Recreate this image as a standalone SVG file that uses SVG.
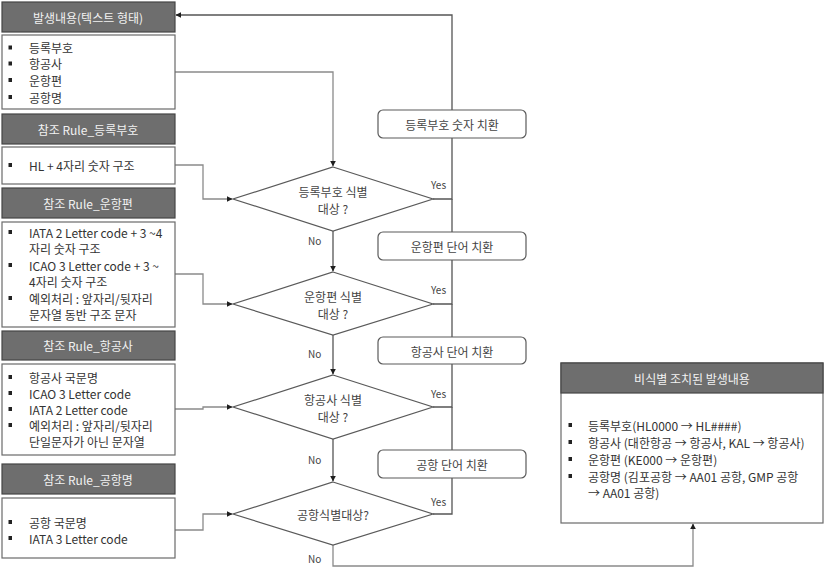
<svg xmlns="http://www.w3.org/2000/svg" width="827" height="569" viewBox="0 0 827 569">
<style>
  text { font-family: "Noto Sans CJK KR", "Noto Sans", sans-serif; }
  .hdr { fill: #6e6e6e; stroke: #454545; stroke-width: 1.2; }
  .hdrt { fill: #f2f2f2; font-size: 12px; text-anchor: middle; dominant-baseline: central; }
  .lst { fill: #ffffff; stroke: #6a6a6a; stroke-width: 1.2; }
  .lt { fill: #333333; font-size: 12px; dominant-baseline: central; }
  .bul { fill: #222222; }
  .dia { fill: #ffffff; stroke: #5a5a5a; stroke-width: 1.2; }
  .dt { fill: #444444; font-size: 12px; text-anchor: middle; dominant-baseline: central; }
  .rb { fill: #ffffff; stroke: #5a5a5a; stroke-width: 1.2; }
  .yn { fill: #444444; font-size: 10px; dominant-baseline: central; }
  .c { fill: none; stroke: #8a8a8a; stroke-width: 1.3; }
  .cd { fill: none; stroke: #555555; stroke-width: 1.3; }
</style>
<defs>
  <marker id="ah" viewBox="0 0 10 10" refX="9" refY="5" markerWidth="6" markerHeight="6" markerUnits="userSpaceOnUse" orient="auto">
    <path d="M0,0 L10,5 L0,10 z" fill="#1e1e1e"/>
  </marker>
</defs>

<g id="connectors">
  <path class="c" d="M175,72 H333 V166" marker-end="url(#ah)"/>
  <path class="c" d="M175,165 H203 V199 H232" marker-end="url(#ah)"/>
  <path class="c" d="M175,274 H203 V304 H232" marker-end="url(#ah)"/>
  <path class="c" d="M175,409 H203 V407 H232" marker-end="url(#ah)"/>
  <path class="c" d="M175,530 H203 V514 H232" marker-end="url(#ah)"/>
  <path class="cd" d="M333,231 V271" marker-end="url(#ah)"/>
  <path class="cd" d="M333,335 V374" marker-end="url(#ah)"/>
  <path class="cd" d="M333,439 V481" marker-end="url(#ah)"/>
  <path class="c" d="M333,545 V566 H693 V524" marker-end="url(#ah)"/>
  <path class="cd" d="M452,110 V15 H176" marker-end="url(#ah)"/>
  <path class="cd" d="M433,199 H452 V138"/>
  <path class="cd" d="M452,232 V199"/>
  <path class="cd" d="M433,304 H452 V260"/>
  <path class="cd" d="M452,337 V304"/>
  <path class="cd" d="M433,407 H452 V364"/>
  <path class="cd" d="M452,450 V407"/>
  <path class="cd" d="M433,514 H452 V478"/>
  <text class="yn" x="431" y="184">Yes</text>
  <text class="yn" x="431" y="289">Yes</text>
  <text class="yn" x="431" y="393">Yes</text>
  <text class="yn" x="431" y="501">Yes</text>
  <text class="yn" x="308" y="240">No</text>
  <text class="yn" x="308" y="353">No</text>
  <text class="yn" x="308" y="459">No</text>
  <text class="yn" x="308" y="558">No</text>
</g>

<g id="h-source">
  <rect class="hdr" x="2" y="2" width="173" height="30"/>
  <text class="hdrt" x="88" y="17">발생내용(텍스트 형태)</text>
</g>
<g id="l-source">
  <rect class="lst" x="2" y="35" width="173" height="74"/>
  <rect class="bul" x="8.5" y="45.5" width="3.5" height="4"/>
  <rect class="bul" x="8.5" y="61.5" width="3.5" height="4"/>
  <rect class="bul" x="8.5" y="78" width="3.5" height="4"/>
  <rect class="bul" x="8.5" y="95" width="3.5" height="4"/>
  <text class="lt" x="29" y="47">등록부호</text>
  <text class="lt" x="29" y="63">항공사</text>
  <text class="lt" x="29" y="80">운항편</text>
  <text class="lt" x="29" y="97">공항명</text>
</g>

<g id="h-rule-reg">
  <rect class="hdr" x="2" y="114" width="173" height="30"/>
  <text class="hdrt" x="88" y="129">참조 Rule_등록부호</text>
</g>
<g id="l-rule-reg">
  <rect class="lst" x="2" y="147" width="173" height="37"/>
  <rect class="bul" x="8.5" y="163" width="3.5" height="4"/>
  <text class="lt" x="29" y="165">HL + 4자리 숫자 구조</text>
</g>

<g id="h-rule-flight">
  <rect class="hdr" x="2" y="188" width="173" height="30"/>
  <text class="hdrt" x="88" y="203">참조 Rule_운항편</text>
</g>
<g id="l-rule-flight">
  <rect class="lst" x="2" y="222" width="173" height="105"/>
  <rect class="bul" x="8.5" y="230" width="3.5" height="4"/>
  <rect class="bul" x="8.5" y="263" width="3.5" height="4"/>
  <rect class="bul" x="8.5" y="296" width="3.5" height="4"/>
  <text class="lt" x="29" y="232">IATA 2 Letter code + 3 ~4</text>
  <text class="lt" x="29" y="248">자리 숫자 구조</text>
  <text class="lt" x="29" y="265">ICAO 3 Letter code + 3 ~</text>
  <text class="lt" x="29" y="281">4자리 숫자 구조</text>
  <text class="lt" x="29" y="298">예외처리 : 앞자리/뒷자리</text>
  <text class="lt" x="29" y="314">문자열 동반 구조 문자</text>
</g>

<g id="h-rule-airline">
  <rect class="hdr" x="2" y="331" width="173" height="29"/>
  <text class="hdrt" x="88" y="345">참조 Rule_항공사</text>
</g>
<g id="l-rule-airline">
  <rect class="lst" x="2" y="364" width="173" height="91"/>
  <rect class="bul" x="8.5" y="375" width="3.5" height="4"/>
  <rect class="bul" x="8.5" y="391" width="3.5" height="4"/>
  <rect class="bul" x="8.5" y="407" width="3.5" height="4"/>
  <rect class="bul" x="8.5" y="423" width="3.5" height="4"/>
  <text class="lt" x="29" y="377">항공사 국문명</text>
  <text class="lt" x="29" y="393">ICAO 3 Letter code</text>
  <text class="lt" x="29" y="409">IATA 2 Letter code</text>
  <text class="lt" x="29" y="425">예외처리 : 앞자리/뒷자리</text>
  <text class="lt" x="29" y="441">단일문자가 아닌 문자열</text>
</g>

<g id="h-rule-airport">
  <rect class="hdr" x="2" y="464" width="173" height="30"/>
  <text class="hdrt" x="88" y="479">참조 Rule_공항명</text>
</g>
<g id="l-rule-airport">
  <rect class="lst" x="2" y="498" width="173" height="60"/>
  <rect class="bul" x="8.5" y="520" width="3.5" height="4"/>
  <rect class="bul" x="8.5" y="536" width="3.5" height="4"/>
  <text class="lt" x="29" y="522">공항 국문명</text>
  <text class="lt" x="29" y="538">IATA 3 Letter code</text>
</g>

<g id="d-reg">
  <polygon class="dia" points="333,167 433,199 333,231 233,199"/>
  <text class="dt" x="333" y="191">등록부호 식별</text>
  <text class="dt" x="333" y="208">대상 ?</text>
</g>
<g id="d-flight">
  <polygon class="dia" points="333,272 433,304 333,335 233,304"/>
  <text class="dt" x="333" y="296">운항편 식별</text>
  <text class="dt" x="333" y="313">대상 ?</text>
</g>
<g id="d-airline">
  <polygon class="dia" points="333,375 433,407 333,439 233,407"/>
  <text class="dt" x="333" y="399">항공사 식별</text>
  <text class="dt" x="333" y="416">대상 ?</text>
</g>
<g id="d-airport">
  <polygon class="dia" points="333,482 433,514 333,545 233,514"/>
  <text class="dt" x="333" y="514">공항식별대상?</text>
</g>

<g id="b-reg">
  <rect class="rb" x="378" y="110" width="148" height="28" rx="5"/>
  <text class="dt" x="452" y="124">등록부호 숫자 치환</text>
</g>
<g id="b-flight">
  <rect class="rb" x="378" y="232" width="148" height="28" rx="5"/>
  <text class="dt" x="452" y="246">운항편 단어 치환</text>
</g>
<g id="b-airline">
  <rect class="rb" x="378" y="337" width="148" height="27" rx="5"/>
  <text class="dt" x="452" y="351">항공사 단어 치환</text>
</g>
<g id="b-airport">
  <rect class="rb" x="378" y="450" width="148" height="28" rx="5"/>
  <text class="dt" x="452" y="464">공항 단어 치환</text>
</g>

<g id="result">
  <rect class="lst" x="561" y="363" width="262" height="160"/>
  <rect class="hdr" x="561" y="363" width="262" height="30"/>
  <text class="hdrt" x="692" y="378">비식별 조치된 발생내용</text>
  <rect class="bul" x="568.5" y="423" width="3.5" height="4"/>
  <rect class="bul" x="568.5" y="440" width="3.5" height="4"/>
  <rect class="bul" x="568.5" y="457" width="3.5" height="4"/>
  <rect class="bul" x="568.5" y="474" width="3.5" height="4"/>
  <text class="lt" x="588" y="425">등록부호(HL0000 → HL####)</text>
  <text class="lt" x="588" y="442">항공사 (대한항공 → 항공사, KAL → 항공사)</text>
  <text class="lt" x="588" y="459">운항편 (KE000 → 운항편)</text>
  <text class="lt" x="588" y="476">공항명 (김포공항 → AA01 공항, GMP 공항</text>
  <text class="lt" x="588" y="492">→ AA01 공항)</text>
</g>
</svg>
